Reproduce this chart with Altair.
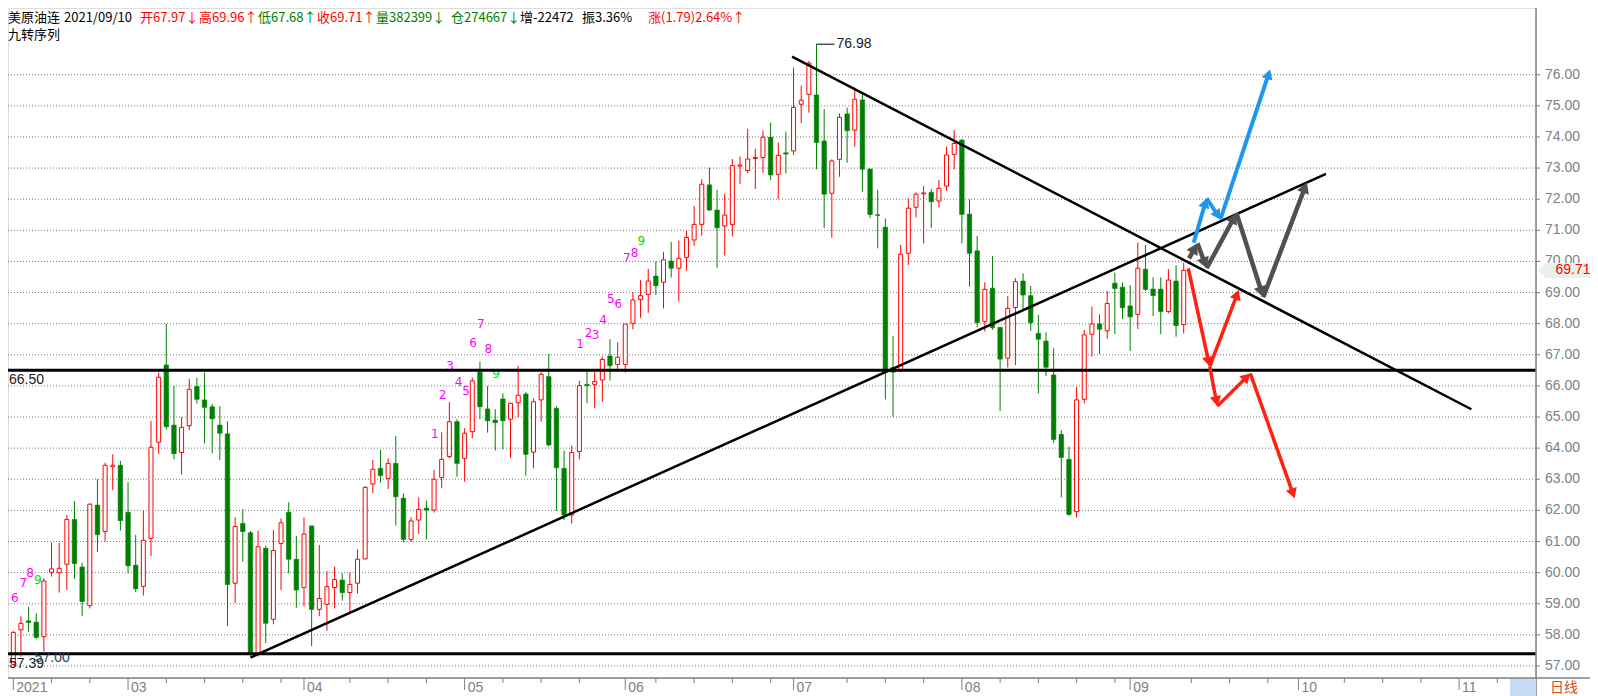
import math
import altair as alt
import pandas as pd

# ---------------- data ----------------
opens = [57.05,58.16,58.45,58.41,57.94,60.01,60.00,60.27,61.71,60.18,
         58.94,62.17,61.32,63.40,63.45,61.94,60.24,59.56,61.10,64.19,
         66.67,64.74,63.86,64.72,65.98,65.55,65.33,64.74,64.46,59.66,
         61.58,61.28,57.38,60.78,58.50,60.94,61.94,60.43,59.52,61.50,
         58.82,58.98,59.52,59.76,59.36,59.66,60.44,62.85,63.35,63.03,
         63.51,62.39,61.07,61.69,62.07,62.01,63.06,63.73,64.85,63.67,
         64.53,66.44,65.26,64.90,65.58,64.93,65.46,65.74,63.87,65.55,
         66.30,65.28,63.35,61.85,63.89,66.05,66.05,66.19,66.96,66.69,
         66.69,68.01,68.78,68.94,69.53,69.33,70.01,69.78,70.13,70.69,
         71.19,72.46,71.65,71.14,71.19,73.06,72.92,73.31,73.34,73.99,
         72.80,73.49,73.55,75.05,75.37,75.35,73.87,72.19,73.28,74.74,
         74.22,75.19,72.97,71.50,71.10,66.59,66.48,70.26,71.74,72.17,
         72.22,71.94,72.42,73.44,73.90,71.52,70.34,68.07,69.14,67.88,
         66.89,68.52,69.37,68.90,67.69,67.44,66.35,64.44,63.64,61.96,
         65.57,67.66,67.99,67.77,69.30,69.17,68.57,68.30,69.75,69.11,
         69.11,68.39,69.37,67.97]
highs = [58.12,58.60,58.90,58.69,59.82,60.96,60.96,61.85,62.30,60.32,
         62.22,63.00,63.53,63.80,63.59,62.91,61.21,61.98,64.87,66.43,
         67.99,66.00,65.00,66.23,66.26,66.43,65.42,65.35,64.86,61.78,
         62.04,61.34,61.34,60.86,61.37,61.74,62.26,61.18,61.77,61.50,
         60.89,60.05,60.19,59.98,60.00,60.75,62.78,63.62,63.94,63.67,
         64.39,62.55,61.78,62.42,62.31,63.30,64.51,65.48,64.93,64.64,
         66.27,66.78,66.00,65.25,65.76,65.46,66.64,65.80,65.60,66.44,
         67.03,65.35,63.92,64.08,66.16,66.51,66.46,66.94,67.50,67.40,
         67.99,69.01,69.40,69.76,70.00,70.31,70.63,70.67,70.98,71.78,
         72.64,73.01,72.30,72.17,73.29,73.37,74.26,73.62,74.20,74.46,
         73.82,74.17,76.23,75.65,76.44,76.98,74.89,73.28,74.76,74.94,
         75.59,75.43,72.98,72.30,71.38,67.60,70.53,72.03,72.22,72.42,
         72.33,72.62,73.69,74.22,73.93,71.99,70.82,69.33,70.17,67.88,
         68.89,69.46,69.62,69.21,68.28,67.72,67.21,64.58,64.05,65.97,
         67.80,68.55,68.30,69.05,69.64,69.32,69.24,70.61,70.53,69.49,
         69.49,69.75,69.88,69.96]
lows = [57.00,57.30,58.10,57.86,57.46,59.87,59.36,59.44,59.80,58.60,
        58.85,60.66,61.00,62.65,61.35,59.98,59.37,59.26,60.53,63.81,
        64.60,63.64,63.15,64.58,65.43,64.15,63.83,63.62,58.29,59.03,
        60.35,57.30,57.30,57.73,58.34,59.44,59.98,58.87,58.91,57.64,
        58.60,58.13,58.85,59.10,58.74,59.33,60.43,62.55,62.89,62.69,
        61.51,60.98,60.99,61.24,61.07,61.93,62.71,63.67,63.08,62.92,
        64.32,64.93,64.50,63.92,63.96,63.69,64.98,63.11,63.35,64.85,
        64.06,61.98,61.69,61.58,63.64,65.44,65.28,65.49,66.17,66.46,
        66.43,67.82,68.19,68.35,68.92,68.49,69.48,68.71,69.70,70.50,
        70.83,71.62,69.80,70.19,70.80,72.49,72.83,72.33,72.85,72.62,
        72.00,72.83,73.42,74.44,74.78,72.96,71.08,70.76,72.72,73.17,
        73.69,72.24,71.40,70.42,65.57,65.01,66.46,69.89,71.41,70.58,
        71.08,71.73,72.27,72.96,70.58,69.19,67.88,67.75,67.80,65.19,
        66.59,66.67,68.46,67.77,65.76,66.32,64.17,62.42,61.82,61.77,
        65.44,66.94,67.03,67.51,67.67,68.15,67.12,67.83,69.05,68.25,
        67.66,68.33,67.58,67.68]
closes = [58.08,58.37,58.40,57.92,59.73,60.12,60.14,61.71,60.29,59.07,
          62.20,61.22,63.45,63.45,61.67,60.22,59.48,61.04,64.03,66.28,
          64.69,63.82,64.67,65.89,65.57,65.31,64.94,64.48,59.62,61.48,
          61.32,57.41,60.83,58.37,60.71,61.60,60.43,59.44,61.24,58.82,
          59.17,59.55,59.78,59.36,59.62,60.43,62.74,63.32,63.12,63.51,
          62.44,61.07,61.66,62.03,62.01,63.00,63.64,64.85,63.51,64.48,
          66.16,65.33,64.88,64.82,64.88,65.44,65.70,63.80,65.49,66.37,
          64.10,63.37,61.85,63.86,66.01,66.01,66.14,66.85,66.65,66.92,
          67.99,68.76,68.90,69.37,69.22,70.05,69.78,70.10,70.77,71.19,
          72.48,71.65,71.08,71.49,73.08,73.10,73.29,73.34,73.99,72.78,
          73.41,73.45,74.95,75.18,76.37,73.82,72.16,73.23,74.63,74.20,
          75.21,72.96,71.51,71.48,66.51,66.44,70.23,71.71,72.16,72.20,
          71.92,72.35,73.42,73.79,71.51,70.26,68.03,69.10,67.87,66.86,
          68.49,69.35,68.92,68.03,67.50,66.60,64.28,63.70,61.87,65.55,
          67.64,67.99,67.82,68.65,69.13,68.51,68.22,69.78,69.10,68.90,
          68.39,69.40,67.94,69.71]

# 九转序列 labels
td_text = ["6","7","8","9",
           "1","2","3","4","5","6","7","8","9",
           "1","2","3","4","5","6","7","8","9"]
td_idx = [0.2,1.3,2.2,3.2,
          55.1,56.1,57.1,58.2,59.2,60.1,61.1,62.1,63.1,
          74.1,75.2,76.1,77.1,78.1,79.1,80.2,81.2,82.1]
td_price = [59.19,59.68,59.98,59.76,
            64.45,65.71,66.64,66.13,65.84,67.39,67.98,67.19,66.38,
            67.35,67.71,67.64,68.12,68.78,68.63,70.10,70.28,70.66]

# support / resistance
level_prices = [66.50, 57.39]
level_labels = ["66.50", "57.39"]
trend_start_i = [31.0, 101.8]
trend_start_p = [57.27, 76.58]
trend_end_i = [171.6, 190.6]
trend_end_p = [72.81, 65.25]

# scenario arrows (index, price) tips
blue_path = [(154.3, 70.60), (156.0, 72.03), (157.8, 71.35), (164.3, 76.17)]
gray_path = [(153.7, 70.10), (154.8, 70.58), (156.0, 69.78), (159.9, 71.55),
             (163.4, 68.85), (169.1, 72.54)]
red_path_a = [(153.6, 69.78), (156.4, 66.62), (160.2, 69.08)]
red_path_b = [(156.4, 66.62), (157.4, 65.35), (161.7, 66.40), (167.5, 62.39)]

# extremes
hi_idx, hi_val = 105, 76.98
lo_label = "57.00"

# axis ticks
major_i = [0, 15, 38, 59, 80, 102, 124, 146, 168, 189]
major_lab = ["2021", "03", "04", "05", "06", "07", "08", "09", "10", "11"]
minor_i = [5, 10, 20, 25, 30, 35, 44, 49, 54, 64, 69, 74, 84, 89, 94, 99, 109,
           114, 119, 129, 134, 139, 144, 154, 159, 164, 174, 179, 184, 194]
y_ticks = list(range(57, 77))

# header
head_txt = ["美原油连", "2021/09/10", "开67.97↓", "高69.96↑", "低67.68↑", "收69.71↑",
            "量382399↓", "仓274667↓", "增-22472", "振3.36%", "涨(1.79)2.64%↑"]
last_close = 69.71

# ---------------- layout / style ----------------
RED = "#ff0000"
GREEN = "#008000"
GRAY = "#808080"
CJK = "Noto Sans CJK SC"
LAT = "Liberation Sans"
head_col = ["#000000", "#000000", RED, RED, GREEN, RED, GREEN, GREEN,
            "#000000", "#000000", RED]
head_x = [0, 56, 132, 191, 250, 309, 368, 443, 512, 574, 640]

W, H = 1528, 670
X_DOM = [-0.039, 198.4]
Y_DOM = [56.614, 78.143]
PX_X = W / (X_DOM[1] - X_DOM[0])
PX_Y = H / (Y_DOM[1] - Y_DOM[0])

xs = alt.Scale(domain=X_DOM, nice=False, zero=False)
ys = alt.Scale(domain=Y_DOM, nice=False, zero=False)


def X(f):
    return alt.X(f, type="quantitative", scale=xs, axis=None)


def Y(f):
    return alt.Y(f, type="quantitative", scale=ys, axis=None)


n = len(opens)
cd = pd.DataFrame({"i": list(range(n)), "o": opens, "h": highs, "l": lows, "c": closes})
cd["dir"] = ["up" if c >= o else "down" for o, c in zip(opens, closes)]

layers = []

# price grid, ticks and labels (right side)
yt = pd.DataFrame({"v": y_ticks, "t": [f"{v:.2f}" for v in y_ticks]})
layers.append(alt.Chart(yt).mark_rule(color="#7a7a7a", strokeWidth=1, strokeDash=[1, 2]).encode(
    y=Y("v"), x=alt.value(0), x2=alt.value(W)))
layers.append(alt.Chart(yt).mark_rule(color=GRAY, strokeWidth=1).encode(
    y=Y("v"), x=alt.value(W), x2=alt.value(W + 4)))
layers.append(alt.Chart(yt).mark_text(align="left", baseline="middle", fontSize=14,
                                      font=LAT, color=GRAY).encode(
    x=alt.value(W + 9), y=Y("v"), text="t:N"))

wicks = alt.Chart(cd).mark_rule(strokeWidth=1).encode(
    x=X("i"), y=Y("l"), y2="h",
    color=alt.Color("dir:N", scale=alt.Scale(domain=["up", "down"], range=[RED, GREEN]), legend=None))
layers.append(wicks)

up_body = alt.Chart(cd).transform_filter(alt.datum.dir == "up").mark_bar(
    width=4, fill="white", stroke=RED, strokeWidth=1).encode(x=X("i"), y=Y("o"), y2="c")
dn_body = alt.Chart(cd).transform_filter(alt.datum.dir == "down").mark_bar(
    width=4.5, fill=GREEN, stroke=GREEN, strokeWidth=0.6).encode(x=X("i"), y=Y("o"), y2="c")
layers += [up_body, dn_body]

# TD labels
td = pd.DataFrame({"t": td_text, "i": td_idx, "p": td_price})
for col, cond in [("#ff00ff", alt.datum.t != "9"), ("#00e000", alt.datum.t == "9")]:
    layers.append(alt.Chart(td).transform_filter(cond).mark_text(
        font="DejaVu Sans", fontSize=12, color=col, align="center", baseline="middle").encode(
        x=X("i"), y=Y("p"), text="t:N"))

# horizontal levels
lv = pd.DataFrame({"p": level_prices, "t": level_labels})
layers.append(alt.Chart(lv).mark_rule(color="black", strokeWidth=3).encode(
    y=Y("p"), x=alt.value(0), x2=alt.value(W)))
layers.append(alt.Chart(lv).mark_text(align="left", baseline="top", dy=3, fontSize=14,
                                      font=LAT, color="#1a1a1a").encode(
    x=alt.value(1), y=Y("p"), text="t:N"))

# trend lines
tl = pd.DataFrame({"i": trend_start_i, "p": trend_start_p, "i2": trend_end_i, "p2": trend_end_p})
layers.append(alt.Chart(tl).mark_rule(color="black", strokeWidth=2.5).encode(
    x=X("i"), y=Y("p"), x2="i2", y2="p2"))

# extremes
hx = pd.DataFrame({"i": [hi_idx], "i2": [hi_idx + 2.35], "p": [hi_val], "t": [f"{hi_val:.2f}"]})
layers.append(alt.Chart(hx).mark_rule(color="black", strokeWidth=1).encode(
    x=X("i"), x2="i2", y=Y("p")))
layers.append(alt.Chart(hx).mark_text(align="left", baseline="middle", dx=2, fontSize=14,
                                      font=LAT, color="#1a1a1a").encode(
    x=X("i2"), y=Y("p"), text="t:N"))
lx = pd.DataFrame({"i": [2.8], "p": [57.26], "t": [lo_label]})
layers.append(alt.Chart(lx).mark_text(align="left", baseline="middle", fontSize=14,
                                      font=LAT, color="#2c3e60").encode(
    x=X("i"), y=Y("p"), text="t:N"))


# arrows
def arrow_tables(path, half_head):
    segs, heads = [], []
    for (i0, p0), (i1, p1) in zip(path[:-1], path[1:]):
        sx = (i1 - i0) * PX_X
        sy = (p1 - p0) * PX_Y
        L = math.hypot(sx, sy)
        ux, uy = sx / L, sy / L
        ci = i1 - ux * half_head / PX_X
        cp = p1 - uy * half_head / PX_Y
        segs.append({"i": i0, "p": p0, "i2": ci, "p2": cp})
        heads.append({"i": ci, "p": cp, "ang": math.degrees(math.atan2(ux, uy)) % 360})
    return pd.DataFrame(segs), pd.DataFrame(heads)


for path, col, sw, hs in [(red_path_a, "#ff2010", 3.5, 130), (red_path_b, "#ff2010", 3.5, 130),
                          (gray_path, "#505050", 4.5, 160), (blue_path, "#1e96f0", 4, 130)]:
    r = math.sqrt(hs) / 2
    segs, heads = arrow_tables(path, r * math.sqrt(3) / 2)
    layers.append(alt.Chart(segs).mark_rule(color=col, strokeWidth=sw).encode(
        x=X("i"), y=Y("p"), x2="i2", y2="p2"))
    layers.append(alt.Chart(heads).mark_point(shape="triangle-up", filled=True, size=hs,
                                              color=col, opacity=1, strokeWidth=0).encode(
        x=X("i"), y=Y("p"), angle=alt.Angle("ang:Q", scale=None)))

# x-axis ticks and labels
mj = pd.DataFrame({"i": major_i, "t": major_lab})
mn = pd.DataFrame({"i": minor_i})
layers.append(alt.Chart(mj).mark_rule(color=GRAY).encode(x=X("i"), y=alt.value(H), y2=alt.value(H + 12)))
layers.append(alt.Chart(mn).mark_rule(color=GRAY).encode(x=X("i"), y=alt.value(H), y2=alt.value(H + 5)))
layers.append(alt.Chart(mj).mark_text(align="left", baseline="middle", dx=3, fontSize=14,
                                      font=LAT, color=GRAY).encode(
    x=X("i"), y=alt.value(H + 10), text="t:N"))

# frame lines
frame = pd.DataFrame({"k": [0]})
layers.append(alt.Chart(frame).mark_rule(color=GRAY, strokeWidth=1.5).encode(
    x=alt.value(0), x2=alt.value(W + 58), y=alt.value(H)))
layers.append(alt.Chart(frame).mark_rule(color=GRAY, strokeWidth=1.5).encode(
    x=alt.value(W), y=alt.value(0), y2=alt.value(H + 18)))
layers.append(alt.Chart(frame).mark_rule(color=GRAY, strokeWidth=1.5).encode(
    x=alt.value(W + 58), y=alt.value(0), y2=alt.value(287)))

# bottom right widgets
layers.append(alt.Chart(frame).mark_rect(color="#c6dcf5").encode(
    x=alt.value(W - 26), x2=alt.value(W), y=alt.value(H + 1), y2=alt.value(H + 18)))
layers.append(alt.Chart(pd.DataFrame({"t": ["日线"]})).mark_text(
    align="left", baseline="middle", font=CJK, fontSize=14, color="#e04a1c").encode(
    x=alt.value(W + 14), y=alt.value(H + 10), text="t:N"))

# last price tag
tag = pd.DataFrame({"p": [last_close], "t": [f"{last_close:.2f}"]})
layers.append(alt.Chart(tag).mark_point(
    shape="M-1,0L-0.7,-0.28L1,-0.28L1,0.28L-0.7,0.28Z", size=2916, filled=True,
    color="#e9f2e9", opacity=1, strokeWidth=0).encode(x=alt.value(W + 29), y=Y("p")))
layers.append(alt.Chart(tag).mark_text(align="center", baseline="middle", fontSize=14,
                                       font=LAT, color=RED).encode(
    x=alt.value(W + 37), y=Y("p"), text="t:N"))

# header
for t, c, xp in zip(head_txt, head_col, head_x):
    layers.append(alt.Chart(pd.DataFrame({"t": [t]})).mark_text(
        align="left", baseline="middle", font=CJK, fontSize=13, color=c).encode(
        x=alt.value(xp), y=alt.value(10), text="t:N"))
layers.append(alt.Chart(pd.DataFrame({"t": ["九转序列"]})).mark_text(
    align="left", baseline="middle", font=CJK, fontSize=13, color="#000000").encode(
    x=alt.value(0), y=alt.value(27), text="t:N"))

chart = alt.layer(*layers).properties(
    width=W, height=H,
    padding={"left": 0, "top": 0, "right": 54, "bottom": 18},
    autosize=alt.AutoSizeParams(type="none"),
).configure_view(stroke=None).configure(background="white")

chart.save("out.html", embed_options={"renderer": "svg", "actions": False})
